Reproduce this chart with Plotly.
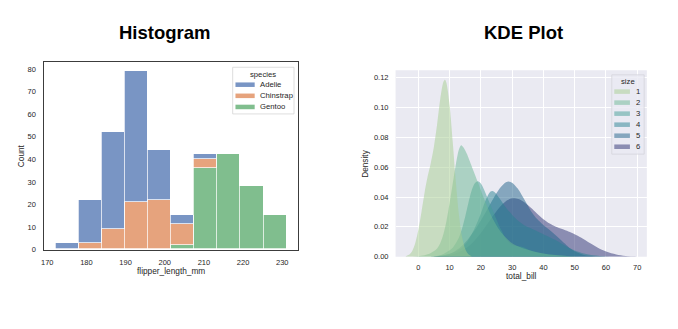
import plotly.graph_objects as go

W, H = 678, 329
FONT = "Liberation Sans, Arial, sans-serif"
TXT = "#262626"

# ---------------- Histogram data (penguins, stacked counts per bin) ----------------
bin_edges = [172.0, 177.9, 183.8, 189.7, 195.6, 201.5, 207.4, 213.3, 219.2, 225.1, 231.0]
species = ["Adelie", "Chinstrap", "Gentoo"]
adelie_counts = [3, 19, 43, 58, 22, 4, 2, 0, 0, 0]
chinstrap_counts = [0, 3, 9, 21, 22, 9, 4, 0, 0, 0]
gentoo_counts = [0, 0, 0, 0, 0, 2, 36, 42, 28, 15]
species_colors = ["rgba(76,114,176,0.75)", "rgba(221,132,82,0.75)", "rgba(85,168,104,0.75)"]
hist_xticks = [170, 180, 190, 200, 210, 220, 230]
hist_yticks = [0, 10, 20, 30, 40, 50, 60, 70, 80]

# ---------------- KDE data (tips total_bill by party size) ----------------
size_levels = ["1", "2", "3", "4", "5", "6"]
kde_x_1 = [-4, -3, -2, -1, 0, 1, 2, 3, 4, 5, 6, 7, 8, 8.5, 9, 10, 11, 12, 13, 14, 15, 16, 17]
kde_d_1 = [0.0004, 0.0013, 0.0037, 0.009, 0.018, 0.030, 0.043, 0.054, 0.063, 0.074, 0.0887,
           0.1055, 0.117, 0.1185, 0.1162, 0.1013, 0.0766, 0.0498, 0.0276, 0.013, 0.0052, 0.0017, 0.0004]
kde_x_2 = [-2, 0, 2, 4, 6, 7, 8, 9, 10, 11, 12, 13, 13.7, 14.5, 15.5, 17, 19, 21, 23, 25, 27,
           30, 33, 36, 40, 44, 48, 52]
kde_d_2 = [0, 0.0003, 0.001, 0.0025, 0.0055, 0.009, 0.015, 0.024, 0.036, 0.049, 0.062, 0.072,
           0.0747, 0.073, 0.069, 0.061, 0.05, 0.039, 0.029, 0.021, 0.015, 0.009, 0.006, 0.004,
           0.0022, 0.0011, 0.0004, 0]
kde_x_3 = [4, 7, 9, 11, 13, 14, 15, 16, 17, 18, 19, 20, 21, 22, 23, 24, 25, 26, 27, 28, 30, 32,
           33.5, 35, 38, 42, 46, 50, 54]
kde_d_3 = [0, 0.001, 0.003, 0.006, 0.013, 0.019, 0.027, 0.036, 0.044, 0.049, 0.0505, 0.049, 0.045,
           0.04, 0.035, 0.03, 0.025, 0.02, 0.016, 0.012, 0.008, 0.007, 0.0065, 0.005, 0.003, 0.0015,
           0.0007, 0.0002, 0]
kde_x_4 = [5, 8, 10, 12, 14, 16, 18, 20, 21, 22, 23, 23.7, 24.5, 26, 28, 30, 32, 34, 36, 38, 40,
           42, 44, 46, 48, 50, 53, 56, 60, 63]
kde_d_4 = [0, 0.001, 0.002, 0.0035, 0.006, 0.011, 0.019, 0.029, 0.035, 0.04, 0.0435, 0.044, 0.043,
           0.039, 0.033, 0.028, 0.024, 0.021, 0.019, 0.017, 0.015, 0.013, 0.011, 0.0085, 0.0062,
           0.0042, 0.0022, 0.001, 0.0002, 0]
kde_x_5 = [4, 8, 11, 14, 16, 18, 20, 22, 24, 26, 28, 29, 30, 32, 34, 36, 38, 40, 42, 45, 48, 50,
           53, 56, 60]
kde_d_5 = [0.0001, 0.0008, 0.0028, 0.0073, 0.012, 0.0177, 0.0243, 0.0315, 0.039, 0.0457, 0.0498,
           0.0503, 0.0496, 0.0451, 0.038, 0.0307, 0.0252, 0.0212, 0.0179, 0.0123, 0.0066, 0.0037,
           0.0012, 0.0003, 0]
kde_x_6 = [5, 10, 14, 17, 20, 22, 24, 26, 28, 30, 32, 34, 36, 38, 40, 42, 44, 46, 48, 50, 52, 55,
           58, 61, 64, 67, 69.5]
kde_d_6 = [0.0002, 0.0011, 0.004, 0.0087, 0.0159, 0.0217, 0.0278, 0.0332, 0.0372, 0.0391, 0.0387,
           0.0364, 0.0328, 0.0288, 0.0251, 0.0222, 0.0201, 0.0185, 0.0169, 0.0151, 0.0129, 0.009,
           0.0054, 0.0028, 0.0012, 0.0004, 0.0002]
kde_xs = [kde_x_1, kde_x_2, kde_x_3, kde_x_4, kde_x_5, kde_x_6]
kde_ds = [kde_d_1, kde_d_2, kde_d_3, kde_d_4, kde_d_5, kde_d_6]
size_colors = ["#a5cd90", "#6cb793", "#439d95", "#288291", "#20628a", "#2c3071"]
kde_xticks = [0, 10, 20, 30, 40, 50, 60, 70]
kde_yticks = [0.00, 0.02, 0.04, 0.06, 0.08, 0.10, 0.12]


def rgba(hexc, a):
    h = hexc.lstrip("#")
    return "rgba(%d,%d,%d,%.2f)" % (int(h[0:2], 16), int(h[2:4], 16), int(h[4:6], 16), a)


def px(x):
    return x / W


def py(y):
    return 1 - y / H


fig = go.Figure()

# ---- stacked histogram ----
centers = [(a + b) / 2 for a, b in zip(bin_edges[:-1], bin_edges[1:])]
widths = [b - a for a, b in zip(bin_edges[:-1], bin_edges[1:])]
hist_counts = {"Adelie": adelie_counts, "Chinstrap": chinstrap_counts, "Gentoo": gentoo_counts}
for name in reversed(species):
    col = species_colors[species.index(name)]
    fig.add_trace(go.Bar(
        x=centers, y=hist_counts[name], width=widths, name=name,
        marker=dict(color=col, line=dict(color="rgba(255,255,255,0.9)", width=0.8)),
        xaxis="x", yaxis="y", showlegend=False,
    ))

# ---- KDE fills (drawn from size 6 up to size 1) ----
for i in reversed(range(len(size_levels))):
    fig.add_trace(go.Scatter(
        x=kde_xs[i], y=kde_ds[i], name=size_levels[i], mode="lines",
        line=dict(width=0, shape="spline", smoothing=0.8, color=size_colors[i]),
        fill="tozeroy", fillcolor=rgba(size_colors[i], 0.5),
        xaxis="x2", yaxis="y2", showlegend=False, hoverinfo="skip",
    ))

tickfont = dict(family=FONT, size=7.5, color=TXT)

shapes = []
annotations = []

# KDE background
shapes.append(dict(type="rect", xref="x2 domain", yref="y2 domain", x0=0, x1=1, y0=0, y1=1,
                   fillcolor="#EAEAF2", line=dict(width=0), layer="below"))

# Titles
annotations.append(dict(text="Histogram", x=px(162.5), y=py(33), xref="paper", yref="paper",
                        showarrow=False, xanchor="center", yanchor="middle",
                        font=dict(family=FONT, size=18.5, color="#000000", weight="bold")))
annotations.append(dict(text="KDE Plot", x=px(522.5), y=py(33), xref="paper", yref="paper",
                        showarrow=False, xanchor="center", yanchor="middle",
                        font=dict(family=FONT, size=18.5, color="#000000", weight="bold")))

labfont = dict(family=FONT, size=8.3, color=TXT)
annotations.append(dict(text="flipper_length_mm", x=px(168.3), y=py(275), xref="paper", yref="paper",
                        showarrow=False, xanchor="center", yanchor="middle", font=labfont))
annotations.append(dict(text="Count", x=px(18.3), y=py(158.4), xref="paper", yref="paper",
                        showarrow=False, xanchor="center", yanchor="middle", textangle=-90, font=labfont))
annotations.append(dict(text="total_bill", x=px(520.5), y=py(280), xref="paper", yref="paper",
                        showarrow=False, xanchor="center", yanchor="middle", font=labfont))
annotations.append(dict(text="Density", x=px(364), y=py(166), xref="paper", yref="paper",
                        showarrow=False, xanchor="center", yanchor="middle", textangle=-90, font=labfont))

legfont = dict(family=FONT, size=7.7, color=TXT)

# Histogram legend
shapes.append(dict(type="rect", xref="paper", yref="paper", x0=px(230.7), x1=px(292.3),
                   y0=py(115.7), y1=py(68.3), fillcolor="rgba(255,255,255,0.8)",
                   line=dict(color="#d6d6d6", width=0.8)))
annotations.append(dict(text="species", x=px(261), y=py(75.5), xref="paper", yref="paper",
                        showarrow=False, xanchor="center", yanchor="middle", font=legfont))
for k, name in enumerate(species):
    yc = 86.0 + 11.3 * k
    shapes.append(dict(type="rect", xref="paper", yref="paper", x0=px(233.5), x1=px(252.8),
                       y0=py(yc + 2.3), y1=py(yc - 2.3), fillcolor=species_colors[k], line=dict(width=0)))
    annotations.append(dict(text=name, x=px(256.2), y=py(yc), xref="paper", yref="paper",
                            showarrow=False, xanchor="left", yanchor="middle", font=legfont))

# KDE legend
shapes.append(dict(type="rect", xref="paper", yref="paper", x0=px(611.5), x1=px(644),
                   y0=py(156.5), y1=py(76), fillcolor="rgba(234,234,242,0.8)",
                   line=dict(color="#d4d4dc", width=0.8)))
annotations.append(dict(text="size", x=px(627.5), y=py(83), xref="paper", yref="paper",
                        showarrow=False, xanchor="center", yanchor="middle", font=legfont))
for k, lvl in enumerate(size_levels):
    yc = 93.0 + 11.2 * k
    shapes.append(dict(type="rect", xref="paper", yref="paper", x0=px(614), x1=px(629.7),
                       y0=py(yc + 2.3), y1=py(yc - 2.3), fillcolor=rgba(size_colors[k], 0.5),
                       line=dict(width=0)))
    annotations.append(dict(text=lvl, x=px(638.3), y=py(yc), xref="paper", yref="paper",
                            showarrow=False, xanchor="center", yanchor="middle", font=legfont))

fig.update_layout(
    width=W, height=H,
    margin=dict(l=0, r=0, t=0, b=0),
    paper_bgcolor="white", plot_bgcolor="rgba(0,0,0,0)",
    barmode="stack", bargap=0,
    showlegend=False,
    xaxis=dict(domain=[px(40.7), px(296)], range=[169.05, 233.95], tickvals=hist_xticks,
               showgrid=False, zeroline=False, showline=True, mirror=True,
               linecolor="#3c3c3c", linewidth=1.2, ticks="", tickfont=tickfont,
               ticklabelstandoff=5),
    yaxis=dict(domain=[py(253.5), py(63.3)], range=[0, 82.95], tickvals=hist_yticks,
               showgrid=False, zeroline=False, showline=True, mirror=True,
               linecolor="#3c3c3c", linewidth=1.2, ticks="", tickfont=tickfont,
               ticklabelstandoff=5),
    xaxis2=dict(domain=[px(394.3), px(646.7)], range=[-7.3, 73.1], tickvals=kde_xticks,
                showgrid=True, gridcolor="white", gridwidth=1, zeroline=False, showline=False,
                ticks="", tickfont=tickfont, anchor="y2", ticklabelstandoff=5),
    yaxis2=dict(domain=[py(260.7), py(71.3)], range=[0, 0.1249], tickvals=kde_yticks,
                tickformat=".2f", showgrid=True, gridcolor="white", gridwidth=1, zeroline=False,
                showline=False, ticks="", tickfont=tickfont, anchor="x2", ticklabelstandoff=6),
    shapes=shapes,
    annotations=annotations,
)

fig.write_html("out.html")
